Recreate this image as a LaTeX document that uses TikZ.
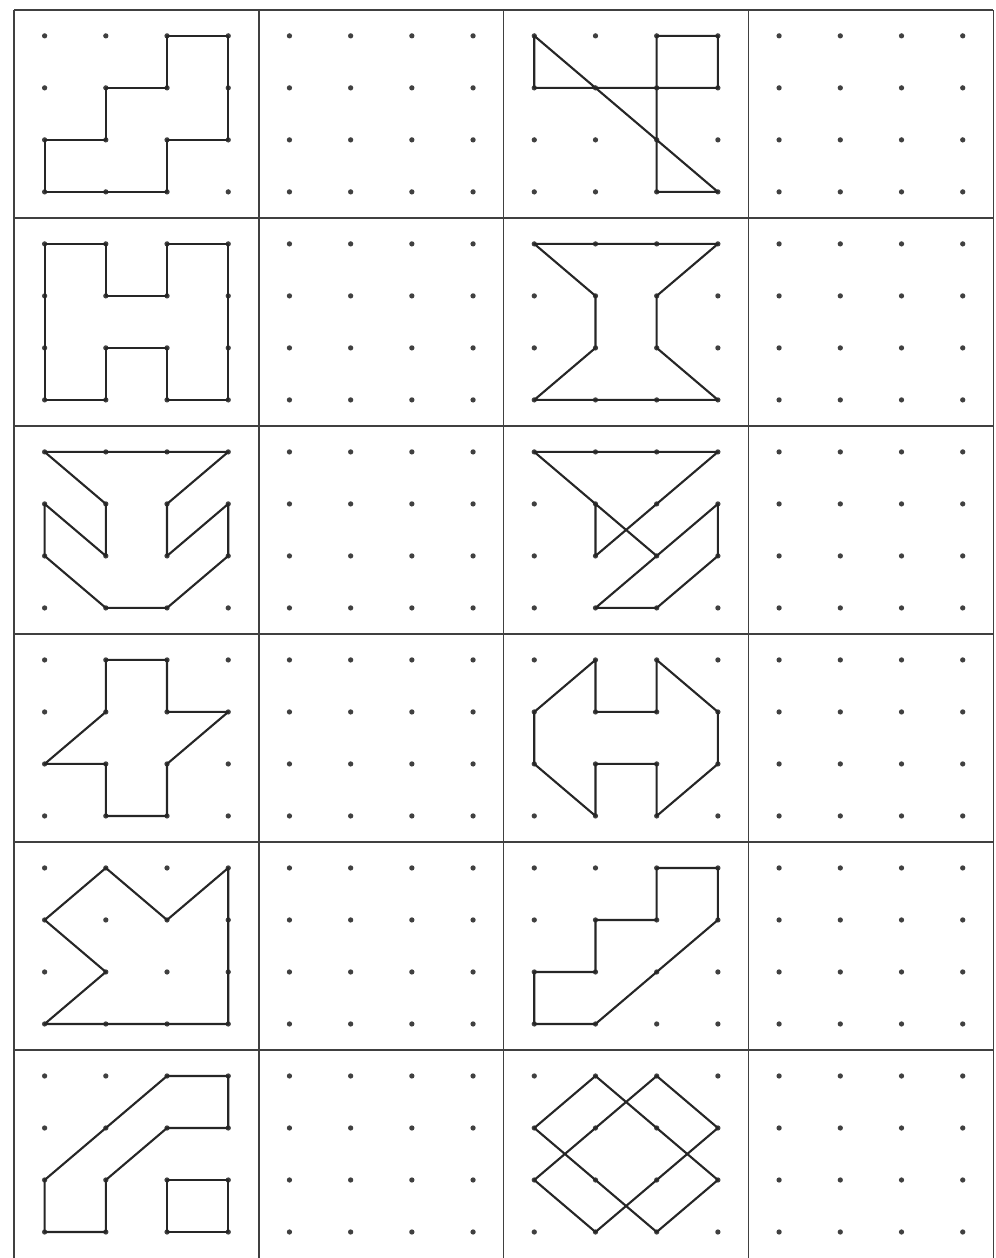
\documentclass[tikz,border=0pt]{standalone}
\usepackage{tikz}

\begin{document}
\begin{tikzpicture}[x=1.224cm,y=1.04cm,
	gridline/.style={line width=0.8pt, black!75},
	figline/.style={line width=1.2pt, black!85, line join=round, line cap=round},
	dotmark/.style={black!75}]
			\useasboundingbox (-0.229,0) rectangle (16.03,24.19);
			% frame of the sheet
			\foreach \x in {0,4,8,12,16} \draw[gridline] (\x,0) to (\x,24);
			\foreach \y in {4,8,...,24} \draw[gridline] (0,\y) to (16,\y);
			% dots: d<row><col>-<i><j>
			\foreach \r in {1,...,6}
			\foreach \c in {1,...,4}
			\foreach \i in {0,...,3}
			\foreach \j in {0,...,3}{
				\coordinate (d\r\c-\i\j) at ({4*(\c-1)+0.5+\i},{4*(6-\r)+0.5+\j});
				\fill[dotmark] (d\r\c-\i\j) circle (1.5pt);
			}
			% row 1
			\draw[figline] (d11-23) -- (d11-33) -- (d11-31) -- (d11-21) -- (d11-20) -- (d11-00) -- (d11-01) -- (d11-11) -- (d11-12) -- (d11-22) -- cycle;
			\draw[figline] (d13-02) -- (d13-03) -- (d13-30) -- (d13-20) -- (d13-23) -- (d13-33) -- (d13-32) -- cycle;
			% row 2
			\draw[figline] (d21-03) -- (d21-13) -- (d21-12) -- (d21-22) -- (d21-23) -- (d21-33) -- (d21-30) -- (d21-20) -- (d21-21) -- (d21-11) -- (d21-10) -- (d21-00) -- cycle;
			\draw[figline] (d23-03) -- (d23-33) -- (d23-22) -- (d23-21) -- (d23-30) -- (d23-00) -- (d23-11) -- (d23-12) -- cycle;
			% row 3
			\draw[figline] (d31-03) -- (d31-33) -- (d31-22) -- (d31-21) -- (d31-32) -- (d31-31) -- (d31-20) -- (d31-10) -- (d31-01) -- (d31-02) -- (d31-11) -- (d31-12) -- cycle;
			\draw[figline] (d33-12) -- (d33-03) -- (d33-33) -- (d33-11) -- (d33-12) -- (d33-21);
			\draw[figline] (d33-32) -- (d33-10) -- (d33-20) -- (d33-31) -- cycle;
			% row 4
			\draw[figline] (d41-13) -- (d41-23) -- (d41-22) -- (d41-32) -- (d41-21) -- (d41-20) -- (d41-10) -- (d41-11) -- (d41-01) -- (d41-12) -- cycle;
			\draw[figline] (d43-13) -- (d43-12) -- (d43-22) -- (d43-23) -- (d43-32) -- (d43-31) -- (d43-20) -- (d43-21) -- (d43-11) -- (d43-10) -- (d43-01) -- (d43-02) -- cycle;
			% row 5
			\draw[figline] (d51-02) -- (d51-13) -- (d51-22) -- (d51-33) -- (d51-30) -- (d51-00) -- (d51-11) -- cycle;
			\draw[figline] (d53-23) -- (d53-33) -- (d53-32) -- (d53-10) -- (d53-00) -- (d53-01) -- (d53-11) -- (d53-12) -- (d53-22) -- cycle;
			% row 6
			\draw[figline] (d61-01) -- (d61-23) -- (d61-33) -- (d61-32) -- (d61-22) -- (d61-11) -- (d61-10) -- (d61-00) -- cycle;
			\draw[figline] (d61-21) -- (d61-31) -- (d61-30) -- (d61-20) -- cycle;
			\draw[figline] (d63-13) -- (d63-02) -- (d63-20) -- (d63-31) -- cycle;
			\draw[figline] (d63-23) -- (d63-01) -- (d63-10) -- (d63-32) -- cycle;
		\end{tikzpicture}
\end{document}
